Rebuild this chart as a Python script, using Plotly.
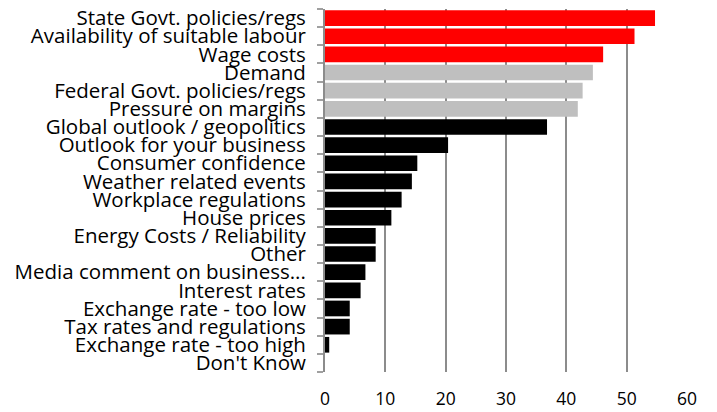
import plotly.graph_objects as go

categories = [
    "State Govt. policies/regs",
    "Availability of suitable labour",
    "Wage costs",
    "Demand",
    "Federal Govt. policies/regs",
    "Pressure on margins",
    "Global outlook / geopolitics",
    "Outlook for your business",
    "Consumer confidence",
    "Weather related events",
    "Workplace regulations",
    "House prices",
    "Energy Costs / Reliability",
    "Other",
    "Media comment on business...",
    "Interest rates",
    "Exchange rate - too low",
    "Tax rates and regulations",
    "Exchange rate - too high",
    "Don't Know",
]
values = [54.7, 51.3, 46.1, 44.4, 42.7, 41.9, 36.8, 20.4, 15.3, 14.4,
          12.7, 11.0, 8.4, 8.4, 6.7, 5.9, 4.1, 4.1, 0.7, 0.0]
groups = ["top"] * 3 + ["mid"] * 3 + ["rest"] * 14
group_colors = {"top": "#FF0000", "mid": "#BFBFBF", "rest": "#000000"}
x_ticks = [0, 10, 20, 30, 40, 50, 60]

colors = [group_colors[g] for g in groups]

fig = go.Figure(go.Bar(
    x=values,
    y=categories,
    orientation="h",
    marker=dict(color=colors, line=dict(width=0)),
))

font_family = "Open Sans, DejaVu Sans, sans-serif"

fig.update_layout(
    width=717,
    height=412,
    margin=dict(l=325, r=30, t=9, b=40),
    paper_bgcolor="white",
    plot_bgcolor="white",
    bargap=0.135,
    showlegend=False,
    font=dict(family=font_family, color="black"),
    xaxis=dict(
        range=[0, 60],
        tickmode="array",
        tickvals=x_ticks,
        showgrid=True,
        gridcolor="#8C8C8C",
        gridwidth=1.5,
        zeroline=False,
        showline=False,
        ticks="outside",
        ticklen=11,
        tickcolor="rgba(0,0,0,0)",
        tickfont=dict(size=17.5, family=font_family),
        automargin=False,
        fixedrange=True,
    ),
    yaxis=dict(
        autorange="reversed",
        categoryorder="array",
        categoryarray=categories,
        tickmode="array",
        tickvals=categories,
        ticktext=categories,
        showline=True,
        linecolor="#8C8C8C",
        linewidth=2,
        ticks="outside",
        tickson="boundaries",
        ticklen=6,
        tickwidth=2,
        tickcolor="#A0A0A0",
        tickfont=dict(size=20.5, family=font_family),
        ticklabelstandoff=13,
        automargin=False,
        showgrid=False,
        fixedrange=True,
    ),
)

fig.write_html("out.html")
